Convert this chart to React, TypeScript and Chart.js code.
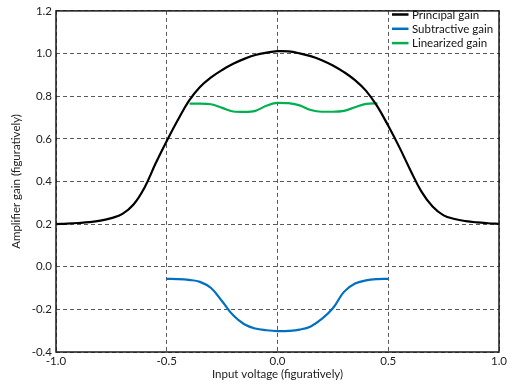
import React, { useEffect, useRef } from "react";
import { Chart, registerables } from "chart.js";

Chart.register(...registerables);

const xTickValues = [-1.0, -0.5, 0.0, 0.5, 1.0];
const yTickValues = [-0.4, -0.2, 0.0, 0.2, 0.4, 0.6, 0.8, 1.0, 1.2];

const seriesLabels = ["Principal gain", "Subtractive gain", "Linearized gain"];
const seriesColors = ["#000000", "#0070C0", "#00B050"];

const principalX = [
  -1.0, -0.95, -0.9, -0.85, -0.8, -0.75, -0.7, -0.65, -0.6, -0.55, -0.5, -0.45, -0.4, -0.35, -0.3, -0.25,
  -0.2, -0.15, -0.1, -0.05, 0.0, 0.05, 0.1, 0.15, 0.2, 0.25, 0.3, 0.35, 0.4, 0.45, 0.5, 0.55, 0.6, 0.65,
  0.7, 0.75, 0.8, 0.85, 0.9, 0.95, 1.0,
];
const principalY = [
  0.2, 0.202, 0.205, 0.209, 0.216, 0.228, 0.248, 0.292, 0.372, 0.485, 0.59, 0.688, 0.778, 0.843, 0.888, 0.923,
  0.952, 0.975, 0.993, 1.004, 1.011, 1.01, 1.001, 0.988, 0.969, 0.944, 0.913, 0.875, 0.825, 0.753, 0.661, 0.561,
  0.453, 0.352, 0.282, 0.241, 0.224, 0.214, 0.208, 0.204, 0.201,
];

const subtractiveX = [
  -0.5, -0.45, -0.4, -0.35, -0.3, -0.25, -0.2, -0.15, -0.1, -0.05, 0.0, 0.05, 0.1, 0.15, 0.2, 0.25, 0.3, 0.35,
  0.4, 0.45, 0.5,
];
const subtractiveY = [
  -0.057, -0.058, -0.062, -0.071, -0.1, -0.162, -0.228, -0.27, -0.29, -0.298, -0.302, -0.301, -0.295, -0.28,
  -0.245, -0.195, -0.118, -0.079, -0.064, -0.058, -0.057,
];

const linearizedX = [
  -0.397, -0.35, -0.3, -0.25, -0.2, -0.15, -0.1, -0.05, 0.0, 0.05, 0.1, 0.15, 0.2, 0.25, 0.3, 0.35, 0.4, 0.451,
];
const linearizedY = [
  0.765, 0.765, 0.762, 0.745, 0.728, 0.726, 0.731, 0.755, 0.769, 0.767, 0.757, 0.735, 0.727, 0.727, 0.731, 0.748,
  0.764, 0.766,
];

const FONT = "Lato, 'Noto Sans', sans-serif";

function toPoints(xs: number[], ys: number[]) {
  return xs.map((x, i) => ({ x, y: ys[i] }));
}

const framePlugin = {
  id: "frame",
  afterDraw(chart: any) {
    const { ctx, chartArea } = chart;
    ctx.save();
    ctx.strokeStyle = "#1a1a1a";
    ctx.lineWidth = 1.5;
    ctx.setLineDash([]);
    ctx.strokeRect(chartArea.left, chartArea.top, chartArea.right - chartArea.left, chartArea.bottom - chartArea.top);
    ctx.restore();
  },
};

const legendPlugin = {
  id: "insideLegend",
  afterDraw(chart: any) {
    const { ctx } = chart;
    const x0 = 392;
    const y0 = 14.5;
    const rowH = 14.3;
    ctx.save();
    ctx.font = `11.5px ${FONT}`;
    ctx.textBaseline = "middle";
    ctx.textAlign = "left";
    chart.data.datasets.forEach((ds: any, i: number) => {
      const y = y0 + i * rowH;
      ctx.strokeStyle = ds.borderColor;
      ctx.lineWidth = 2.5;
      ctx.setLineDash([]);
      ctx.beginPath();
      ctx.moveTo(x0, y);
      ctx.lineTo(x0 + 16.5, y);
      ctx.stroke();
      ctx.fillStyle = "#111";
      ctx.fillText(ds.label, x0 + 20, y + 0.5);
    });
    ctx.restore();
  },
};

export default function App() {
  const ref = useRef<HTMLCanvasElement | null>(null);

  useEffect(() => {
    if (!ref.current) return;
    const series = [
      toPoints(principalX, principalY),
      toPoints(subtractiveX, subtractiveY),
      toPoints(linearizedX, linearizedY),
    ];
    const chart = new Chart(ref.current, {
      type: "line",
      data: {
        datasets: series.map((data, i) => ({
          label: seriesLabels[i],
          data,
          borderColor: seriesColors[i],
          backgroundColor: seriesColors[i],
          borderWidth: 2.2,
          pointRadius: 0,
          fill: false,
          tension: i === 2 ? 0 : 0.4,
          cubicInterpolationMode: i === 2 ? ("monotone" as const) : ("default" as const),
        })),
      },
      options: {
        responsive: false,
        animation: false,
        layout: { padding: { top: 8, right: 20, left: 0, bottom: 0 } },
        plugins: {
          legend: { display: false },
          tooltip: { enabled: false },
        },
        scales: {
          x: {
            type: "linear",
            min: -1,
            max: 1,
            afterBuildTicks: (scale: any) => {
              scale.ticks = xTickValues.map((v) => ({ value: v }));
            },
            afterFit: (scale: any) => {
              scale.height = 38;
            },
            ticks: {
              callback: (v: any) => Number(v).toFixed(1),
              font: { family: FONT, size: 11.5 },
              color: "#222",
              padding: 2,
              maxRotation: 0,
            },
            grid: { color: "#5a5a5a", lineWidth: 1, drawTicks: false },
            border: { display: false, dash: [4, 3] },
            title: {
              display: true,
              text: "Input voltage (figuratively)",
              font: { family: FONT, size: 11.5 },
              color: "#222",
              padding: { top: 4, bottom: 9 },
            },
          },
          y: {
            type: "linear",
            min: -0.4,
            max: 1.2,
            afterBuildTicks: (scale: any) => {
              scale.ticks = yTickValues.map((v) => ({ value: v }));
            },
            afterFit: (scale: any) => {
              scale.width = 56;
            },
            ticks: {
              callback: (v: any) => Number(v).toFixed(1),
              font: { family: FONT, size: 11.5 },
              color: "#222",
              padding: 4,
            },
            grid: { color: "#5a5a5a", lineWidth: 1, drawTicks: false },
            border: { display: false, dash: [4, 3] },
            title: {
              display: true,
              text: "Amplifier gain (figuratively)",
              font: { family: FONT, size: 11.5 },
              color: "#222",
              padding: { top: 9, bottom: 4 },
            },
          },
        },
      },
      plugins: [framePlugin, legendPlugin],
    });
    return () => chart.destroy();
  }, []);

  return (
    <div style={{ position: "fixed", left: 0, top: 0, width: 519, height: 390, background: "#fff" }}>
      <canvas ref={ref} width={519} height={390} style={{ display: "block" }} />
    </div>
  );
}
